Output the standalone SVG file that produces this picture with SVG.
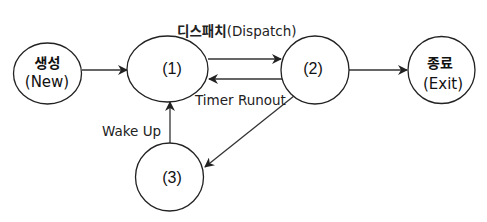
<svg xmlns="http://www.w3.org/2000/svg" width="487" height="222" viewBox="0 0 487 222">
<defs>
<marker id="ah" viewBox="0 0 10 10" refX="9" refY="5" markerWidth="10" markerHeight="10" markerUnits="userSpaceOnUse" orient="auto">
<path d="M0,0 L10,5 L0,10 L3,5 Z" fill="#222"/>
</marker>
<style>
.n{fill:#fff;stroke:#222;stroke-width:1.3}
.t{font-family:"DejaVu Sans","Noto Sans CJK KR",sans-serif;font-size:15px;fill:#111;text-anchor:middle}
.p{font-family:"Liberation Sans",Arial,sans-serif;font-size:16px;fill:#111;text-anchor:middle}
.k{font-family:"Noto Sans CJK KR",sans-serif;font-size:14px;font-weight:bold;fill:#111;text-anchor:middle}
.l{font-family:"DejaVu Sans","Noto Sans CJK KR",sans-serif;font-size:13.5px;fill:#222}
.e{fill:none;stroke:#333;stroke-width:1.3;marker-end:url(#ah)}
</style>
</defs>
<rect width="487" height="222" fill="#fff"/>
<g id="connectors">
<line class="e" x1="82" y1="70" x2="127" y2="70"/>
<line class="e" x1="208" y1="59" x2="281" y2="59"/>
<line class="e" x1="282" y1="79" x2="209" y2="79"/>
<line class="e" x1="349" y1="70" x2="407" y2="70"/>
<line class="e" x1="294" y1="96" x2="205" y2="167"/>
<line class="e" x1="170" y1="143" x2="170" y2="102"/>
<text class="l" x="177" y="36" font-size="14"><tspan font-family="Noto Sans CJK KR" font-weight="bold">디스패치</tspan>(Dispatch)</text>
<text class="l" x="195" y="105">Timer Runout</text>
<text class="l" x="102" y="136">Wake Up</text>
</g>
<g id="new">
<ellipse class="n" cx="47.5" cy="73.5" rx="34" ry="30.5"/>
<text class="k" x="47.5" y="68">생성</text>
<text class="t" x="47" y="87">(New)</text>
</g>
<g id="s1">
<ellipse class="n" cx="167.5" cy="69" rx="40.5" ry="33"/>
<text class="p" x="172" y="74">(1)</text>
</g>
<g id="s2">
<circle class="n" cx="315" cy="70" r="34"/>
<text class="p" x="313" y="74">(2)</text>
</g>
<g id="exit">
<circle class="n" cx="441.5" cy="70" r="33.5"/>
<text class="k" x="440" y="68">종료</text>
<text class="t" x="443" y="89">(Exit)</text>
</g>
<g id="s3">
<circle class="n" cx="169.5" cy="177" r="34"/>
<text class="p" x="172" y="183">(3)</text>
</g>
</svg>
